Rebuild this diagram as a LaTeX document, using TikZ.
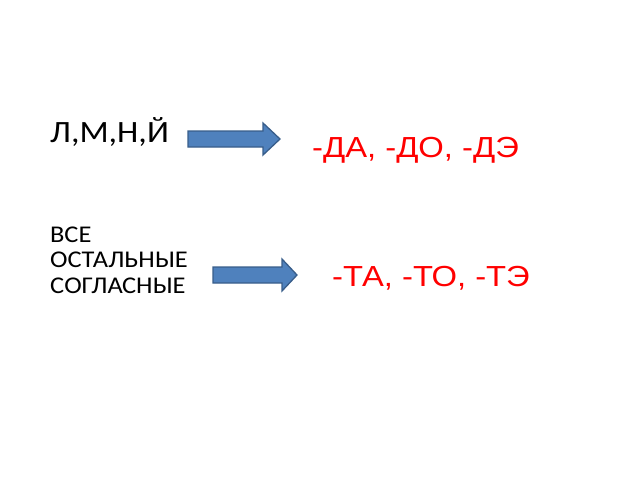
\documentclass[tikz,border=0pt]{standalone}
\usepackage{fontspec}
\setmainfont{Carlito}
\newfontfamily\bigfont[FakeStretch=1.10]{Carlito}
\newfontfamily\smallfont[FakeStretch=1.10]{Carlito}
\newfontfamily\redfont[FakeStretch=1.13]{Liberation Sans}
\definecolor{arrowfill}{HTML}{4F81BD}
\definecolor{arrowline}{HTML}{385D8A}
\begin{document}
\begin{tikzpicture}[x=1pt,y=-1pt,
  blockarrow/.style={fill=arrowfill,draw=arrowline,line width=1.3pt,line join=miter},
  bigtext/.style={anchor=base west,inner sep=0pt,font=\bigfont\fontsize{31}{31}\selectfont},
  smalltext/.style={anchor=base west,inner sep=0pt,align=left,font=\smallfont\fontsize{24}{25.5}\selectfont},
  redtext/.style={anchor=base west,inner sep=0pt,text=red,font=\redfont\fontsize{29}{29}\selectfont}]
\useasboundingbox (0,0) rectangle (640,480);
\node[bigtext] (lmn) at (50,142) {Л,М,Н,Й};
\node[smalltext] (vse) at (50,293) {ВСЕ\\ОСТАЛЬНЫЕ\\СОГЛАСНЫЕ};
\node[redtext] (da) at (312,157) {-ДА, -ДО, -ДЭ};
\node[redtext] (ta) at (332,286) {-ТА, -ТО, -ТЭ};
\draw[blockarrow] (188,131) -- (263,131) -- (263,123) -- (280,139) -- (263,155) -- (263,147) -- (188,147) -- cycle;
\draw[blockarrow] (213,267) -- (282,267) -- (282,259) -- (297,275) -- (282,291) -- (282,283) -- (213,283) -- cycle;
\end{tikzpicture}
\end{document}
